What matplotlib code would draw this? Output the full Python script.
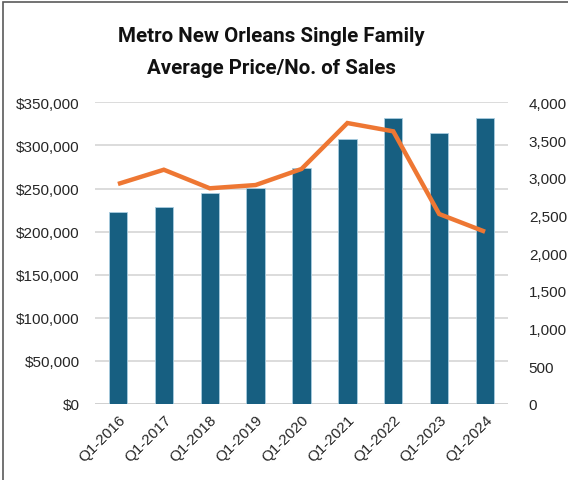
import matplotlib
matplotlib.use("Agg")
import matplotlib.pyplot as plt
from matplotlib.ticker import FuncFormatter, MultipleLocator
from matplotlib.patches import Rectangle

categories = ["Q1-2016", "Q1-2017", "Q1-2018", "Q1-2019", "Q1-2020",
              "Q1-2021", "Q1-2022", "Q1-2023", "Q1-2024"]
avg_price = [222400, 228200, 244800, 250900, 274100, 307400, 332100, 314400, 331800]
num_sales = [2917, 3106, 2860, 2903, 3116, 3725, 3615, 2519, 2284]

W, H = 568, 481
fig = plt.figure(figsize=(W / 100, H / 100), dpi=100)
fig.patch.set_facecolor("white")

ax = fig.add_axes([95 / W, 1 - 405 / H, (508 - 95) / W, (405 - 103.3) / H])
ax2 = ax.twinx()

x = list(range(len(categories)))
ax.bar(x, avg_price, width=0.4, color="#175f81", edgecolor="#a9cde0",
       linewidth=0.6, zorder=3)
ax2.plot(x, num_sales, color="#ee7733", linewidth=3.2, solid_capstyle="butt",
         solid_joinstyle="miter", zorder=4)

ax.set_xlim(-0.5, len(categories) - 0.5)
ax.set_ylim(0, 350000)
ax2.set_ylim(0, 4000)
ax.yaxis.set_major_locator(MultipleLocator(50000))
ax2.yaxis.set_major_locator(MultipleLocator(500))
ax.yaxis.set_major_formatter(FuncFormatter(lambda v, p: "${:,.0f}".format(v)))
ax2.yaxis.set_major_formatter(FuncFormatter(lambda v, p: "{:,.0f}".format(v)))

ax.grid(axis="y", color="#d9d9d9", linewidth=1.3, zorder=0)
ax.set_axisbelow(True)
for a in (ax, ax2):
    for s in ("top", "left", "right", "bottom"):
        a.spines[s].set_visible(False)
ax.axhline(0, color="#d0d0d0", linewidth=1.3, zorder=2)

lab_font = dict(family="Liberation Sans", size=11, color="#262626")
ax.tick_params(axis="y", length=0, pad=11)
ax2.tick_params(axis="y", length=0, pad=15)
ax.set_xticks(x)
ax.set_xticklabels(categories, rotation=45, ha="right", rotation_mode="anchor",
                   **lab_font)
ax.tick_params(axis="x", length=0, pad=6)
for t in ax.get_yticklabels() + ax2.get_yticklabels():
    t.set_fontfamily("Liberation Sans"); t.set_fontsize(11); t.set_color("#262626")

title_fam = ["Roboto", "DejaVu Sans"]
fig.text(271 / W, 1 - 36 / H, "Metro New Orleans Single Family", ha="center",
         va="center", fontsize=14.8, fontweight="bold", family=title_fam,
         color="#111111")
fig.text(271 / W, 1 - 69 / H, "Average Price/No. of Sales", ha="center",
         va="center", fontsize=14.8, fontweight="bold", family=title_fam,
         color="#111111")

fig.patches.append(Rectangle((3.5 / W, -0.1), 1.2, 1 - 2.5 / H + 0.1,
                             transform=fig.transFigure, fill=False,
                             edgecolor="#5a5a5a", linewidth=1.2))

fig.savefig("out.png", dpi=100)
